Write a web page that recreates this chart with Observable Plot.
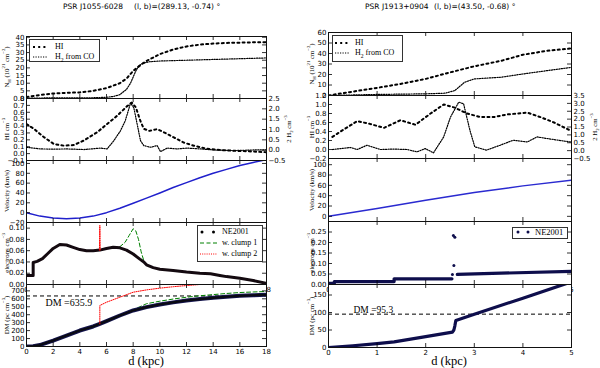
<!DOCTYPE html>
<html><head><meta charset="utf-8">
<script src="https://cdn.jsdelivr.net/npm/d3@7"></script>
<script src="https://cdn.jsdelivr.net/npm/@observablehq/plot@0.6"></script>
<style>
body{margin:0;background:#fff;}
#root{position:relative;width:600px;height:368px;overflow:hidden;background:#fff;font-family:"DejaVu Sans",sans-serif;color:#000;}
.ylab{position:absolute;white-space:nowrap;font-family:"Liberation Serif",serif;font-size:6.8px;transform:translate(-50%,-50%) rotate(-90deg);line-height:1;}
.ylab sub,.ylab sup,.lg sub{font-size:70%;line-height:0;}
.lgbox{position:absolute;border:0.8px solid #333;background:#fff;box-sizing:border-box;}
.lg{position:absolute;white-space:nowrap;font-family:"Liberation Serif",serif;font-size:8px;line-height:1;transform:translateY(-50%);}
.sw{position:absolute;overflow:visible;line-height:0;font-size:0;}
.sw svg{display:block;}
.title{position:absolute;white-space:nowrap;font-size:7.5px;line-height:1;transform:translateY(-50%);}
.xl{position:absolute;white-space:nowrap;font-family:"Liberation Serif",serif;font-size:12.5px;line-height:1;transform:translate(-50%,-50%);}
</style></head><body><div id="root"></div>
<script>
// ---------- data ----------
const L_XTICKS = [0,2,4,6,8,10,12,14,16,18];
const R_XTICKS = [0,1,2,3,4,5];

// Left: PSR J1055-6028
const L_NH_TICKS = [0,5,10,15,20,25,30,35,40];
const L_NH_HI = [[0,1],[1,2.3],[2,3.3],[3,3.7],[4,4],[5,5],[6,6.8],[7,10],[7.5,13],[8,18],[8.5,21.5],[9,24.5],[10,29],[11,32],[12,34],[13,35.2],[14,35.9],[15,36.3],[16,36.5],[17,36.7],[18,36.8]];
const L_NH_H2 = [[0,0.3],[3,0.4],[5,0.5],[6,0.8],[6.5,1.3],[7,2.5],[7.5,6],[7.8,10],[8,14],[8.2,18],[8.4,21],[8.7,23],[9.2,24],[10,24.5],[12,25],[14,25.5],[16,26],[18,26.5]];
const L_HI_TICKS = [-0.1,0,0.1,0.2,0.3,0.4,0.5,0.6,0.7,0.8];
const L_H2_TICKS = [-0.5,0,0.5,1,1.5,2,2.5];
const L_HI = [[0,0.43],[0.55,0.36],[1.3,0.24],[2.05,0.14],[2.8,0.115],[3.55,0.125],[4.3,0.19],[5.3,0.31],[6.05,0.43],[6.8,0.55],[7.55,0.69],[7.9,0.74],[8.2,0.67],[8.55,0.47],[8.8,0.36],[9.2,0.33],[9.8,0.355],[10.3,0.31],[11.05,0.235],[11.8,0.16],[12.55,0.115],[13.55,0.07],[15.05,0.045],[16.55,0.035],[18,0.02]];
const L_H2 = [[0,0.14],[1.05,0.06],[2,0.05],[3.05,0.06],[4.3,0.03],[5.55,0.1],[6.05,0.06],[6.55,0.46],[7.05,0.94],[7.4,1.41],[7.7,2.05],[7.8,2.29],[8.05,2.05],[8.3,1.26],[8.55,0.46],[8.8,0.22],[9.3,0.14],[9.8,0.22],[10.05,-0.07],[10.55,0.1],[11.3,0.06],[12.05,0.1],[13.05,0.06],[14.05,0.01],[15.55,-0.02],[17.05,0.01],[18,0.01]];
const L_V_TICKS = [-20,0,20,40,60,80,100];
const L_VEL = [[0,0],[1,-7],[2,-11],[3,-12.3],[4,-11],[5,-7],[6,0],[7,9],[8,19],[9,29.5],[10,40],[11,51],[12,61],[13,71],[14,80],[15,88],[16,96],[17,102],[18,108]];
const L_NE_TICKS = [0,0.02,0.04,0.06,0.08,0.10];
const L_NE_NE2001 = [[0,0.016],[0.5,0.016],[0.5,0.039],[0.8,0.041],[1.2,0.046],[1.6,0.055],[2,0.064],[2.5,0.071],[3,0.07],[3.5,0.066],[4,0.062],[4.5,0.06],[5,0.06],[5.5,0.061],[6,0.064],[6.5,0.066],[7,0.065],[7.5,0.061],[8,0.054],[8.5,0.045],[8.8,0.04],[9,0.035],[9.5,0.03],[10,0.027],[11,0.025],[12,0.022],[13,0.02],[13.8,0.019],[14.5,0.016],[15,0.014],[16,0.011],[17,0.007],[18,0.002]];
const L_NE_CLUMP1 = [[6.5,0.066],[7,0.067],[7.4,0.075],[7.7,0.087],[8,0.099],[8.2,0.095],[8.4,0.08],[8.6,0.058],[8.8,0.042],[9,0.035]];
const L_NE_CLUMP2 = [[5.47,0.061],[5.5,0.105],[5.53,0.061]];
const L_DM_TICKS = [0,100,200,300,400,500,600,700];
const L_DM_NE2001 = [[0,0],[0.5,4],[1,18],[2,75],[3,138],[4,201],[5,252],[5.5,285],[6,319],[7,390],[8,453],[9,495],[10,528],[11,555],[12,579],[13,597],[14,612],[15,626],[16,638],[17,645],[18,650]];
const L_DM_CLUMP1 = [[7,390],[7.5,422],[8,465],[8.5,500],[9,538],[10,570],[11,597],[12,620],[13,638],[14,653],[15,667],[16,679],[17,686],[18,692]];
const L_DM_CLUMP2 = [[5.5,285],[5.5,516],[6,557],[7,620],[8,683],[9,712],[10,734],[11,752],[12,767],[13,780],[14,795]];
const L_DM_OBS = [635.9];

// Right: PSR J1913+0904
const R_NH_TICKS = [0,10,20,30,40,50,60];
const R_NH_HI = [[0,0],[0.43,3.2],[1,7.3],[1.48,11],[2,15.8],[2.5,22],[3,27.8],[3.55,33],[4,38.8],[4.5,42.6],[5,44.8]];
const R_NH_H2 = [[0,0],[1,1],[2,1.6],[2.4,2.2],[2.6,4.7],[2.8,12.6],[3,15.8],[3.3,16.7],[3.55,17.4],[4,20.5],[4.5,23.7],[5,26.8]];
const R_HI_TICKS = [-0.2,0,0.2,0.4,0.6,0.8,1.0,1.2];
const R_H2_TICKS = [-0.5,0,0.5,1,1.5,2,2.5,3,3.5];
const R_HI = [[0.08,0.28],[0.32,0.45],[0.59,0.63],[0.85,0.57],[1.14,0.48],[1.48,0.65],[1.79,0.55],[2.1,0.8],[2.37,1.0],[2.6,0.93],[2.85,0.8],[3.13,0.72],[3.4,0.72],[3.68,0.78],[4.09,0.82],[4.36,0.72],[4.64,0.6],[4.98,0.42]];
const R_H2 = [[0.08,0.07],[0.45,0.2],[0.59,0.07],[0.79,0.34],[1.07,0.07],[1.34,0.1],[1.62,0.07],[1.82,-0.08],[1.99,0.13],[2.16,-0.14],[2.37,0.87],[2.51,2.13],[2.68,3.08],[2.78,2.97],[2.91,1.29],[3.01,0.24],[3.25,0.03],[3.53,0.34],[3.8,0.66],[4.09,0.55],[4.29,0.87],[4.64,0.7],[4.98,0.55]];
const R_V_TICKS = [0,20,40,60,80,100];
const R_VEL = [[0,0],[1,15],[2,31],[3,46],[4,59],[5,70]];
const R_NE_TICKS = [0,0.05,0.10,0.15,0.20,0.25];
const R_NE_A = [[0,0.006],[0.12,0.006],[0.12,0.014],[1.35,0.014],[1.35,0.027],[2.54,0.027]];
const R_NE_B = [[2.65,0.048],[5,0.063]];
const R_NE_SPIKE = [[2.55,0.048],[2.58,0.09],[2.57,0.233],[2.6,0.225]];
const R_DM_TICKS = [0,50,100,150];
const R_DM_NE2001 = [[0,0],[0.5,5],[1,11],[1.35,16],[2,31],[2.55,44],[2.58,50],[2.6,62],[2.62,77],[3,95],[4,141],[4.9,183]];
const R_DM_OBS = [95.3];

// ---------- layout helpers ----------
const root = document.getElementById("root");
const M = {l: 40, r: 40, t: 10, b: 16};
const f1 = d3.format(".1f"), f2 = d3.format(".2f"), f0 = d3.format("d");

function mk(o) {
  const {x0, y0, w, h, xd, yd, xt, yt, yfmt, marks = []} = o;
  const yaxis = o.yaxis === undefined ? "left" : o.yaxis;
  const all = [];
  if (o.bg) all.push(Plot.frame({fill: "white", stroke: null}));
  all.push(...marks);
  if (o.xticks !== false) {
    all.push(Plot.tickX(xt, {x: d => d, insetBottom: h - 4, stroke: "black", strokeWidth: 0.8}));
    all.push(Plot.tickX(xt, {x: d => d, insetTop: h - 4, stroke: "black", strokeWidth: 0.8}));
  }
  if (o.ticksL !== false) all.push(Plot.tickY(yt, {y: d => d, insetRight: w - 4, stroke: "black", strokeWidth: 0.8}));
  if (o.ticksR !== false) all.push(Plot.tickY(yt, {y: d => d, insetLeft: w - 4, stroke: "black", strokeWidth: 0.8}));
  if (o.frame !== false) all.push(Plot.frame({stroke: "#111", strokeWidth: 1}));
  const p = Plot.plot({
    width: w + M.l + M.r, height: h + M.t + M.b,
    marginLeft: M.l, marginRight: M.r, marginTop: M.t, marginBottom: M.b,
    style: {background: "none", overflow: "visible", fontFamily: "DejaVu Sans, sans-serif", fontSize: "7px", color: "black"},
    x: {domain: xd, axis: o.xlabels ? "bottom" : null, ticks: xt, tickSize: 0, tickPadding: 2.5, label: null, tickFormat: f0},
    y: {domain: yd, axis: yaxis, ticks: yt, tickFormat: yfmt, tickSize: 0, tickPadding: 2, label: null},
    marks: all
  });
  Object.assign(p.style, {position: "absolute", left: (x0 - M.l) + "px", top: (y0 - M.t) + "px"});
  root.appendChild(p);
}
function el(cls, css, html) {
  const e = document.createElement("div");
  e.className = cls; e.style.cssText = css; e.innerHTML = html;
  root.appendChild(e); return e;
}
const X = d => d[0], Y = d => d[1];
const HIsty = {stroke: "black", strokeWidth: 2, strokeDasharray: "2,3.2", clip: true};
const H2sty = {stroke: "black", strokeWidth: 1.2, strokeDasharray: "1.2,1.3", clip: true};

// ---------- LEFT COLUMN ----------
const LX0 = 26, LW = 240, LH = 62, LTOP = [36, 98, 160, 222, 284];
mk({x0: LX0, y0: LTOP[0], w: LW, h: LH, xd: [0, 18], yd: [0, 40.5], xt: L_XTICKS, yt: L_NH_TICKS, yfmt: f0,
  marks: [Plot.line(L_NH_H2, {x: X, y: Y, ...H2sty}), Plot.line(L_NH_HI, {x: X, y: Y, ...HIsty})]});
mk({x0: LX0, y0: LTOP[1], w: LW, h: LH, xd: [0, 18], yd: [-0.1, 0.8], xt: L_XTICKS, yt: L_HI_TICKS, yfmt: f1, ticksR: false,
  marks: [Plot.line(L_HI, {x: X, y: Y, ...HIsty})]});
mk({x0: LX0, y0: LTOP[1], w: LW, h: LH, xd: [0, 18], yd: [-0.5, 2.5], xt: L_XTICKS, yt: L_H2_TICKS, yfmt: f1, yaxis: "right",
  ticksL: false, xticks: false, frame: false,
  marks: [Plot.line(L_H2, {x: X, y: Y, ...H2sty})]});
mk({x0: LX0, y0: LTOP[2], w: LW, h: LH, xd: [0, 18], yd: [-20, 106], xt: L_XTICKS, yt: L_V_TICKS, yfmt: f0,
  marks: [Plot.line(L_VEL, {x: X, y: Y, stroke: "#2020cc", strokeWidth: 1.5, clip: true})]});
mk({x0: LX0, y0: LTOP[3], w: LW, h: LH, xd: [0, 18], yd: [0, 0.11], xt: L_XTICKS, yt: L_NE_TICKS, yfmt: f2, xlabels: true,
  marks: [
    Plot.line(L_NE_CLUMP1, {x: X, y: Y, stroke: "#008000", strokeWidth: 1, strokeDasharray: "4,2.5", clip: true}),
    Plot.line(L_NE_NE2001, {x: X, y: Y, stroke: "#140a10", strokeWidth: 3, clip: true}),
    Plot.line(L_NE_CLUMP2, {x: X, y: Y, stroke: "#ff0000", strokeWidth: 1, strokeDasharray: "1,1.2", clip: true})
  ]});
mk({x0: LX0, y0: LTOP[4], w: LW, h: LH, xd: [0, 18], yd: [0, 780], xt: L_XTICKS, yt: L_DM_TICKS, yfmt: f0, xlabels: true, bg: true,
  marks: [
    Plot.ruleY(L_DM_OBS, {y: d => d, stroke: "black", strokeWidth: 1, strokeDasharray: "4,3"}),
    Plot.text(L_DM_OBS, {y: d => d, frameAnchor: "left", text: d => "DM =" + d, dx: 19, dy: 6.5, textAnchor: "start", fontFamily: "Liberation Serif, serif", fontSize: 10}),
    Plot.line(L_DM_CLUMP1, {x: X, y: Y, stroke: "#008000", strokeWidth: 1, strokeDasharray: "4,2.5", clip: true}),
    Plot.line(L_DM_NE2001, {x: X, y: Y, stroke: "#15154f", strokeWidth: 4, clip: true}),
    Plot.line(L_DM_NE2001, {x: X, y: Y, stroke: "#0a0a12", strokeWidth: 2.2, clip: true}),
    Plot.line(L_DM_CLUMP2, {x: X, y: Y, stroke: "#ff0000", strokeWidth: 1, strokeDasharray: "1,1.2", clip: true})
  ]});

// ---------- RIGHT COLUMN ----------
const RX0 = 328, RW = 243, RH = 63, RTOP = [32, 95, 158, 221, 284];
mk({x0: RX0, y0: RTOP[0], w: RW, h: RH, xd: [0, 5], yd: [0, 60], xt: R_XTICKS, yt: R_NH_TICKS, yfmt: f0,
  marks: [Plot.line(R_NH_H2, {x: X, y: Y, ...H2sty}), Plot.line(R_NH_HI, {x: X, y: Y, ...HIsty})]});
mk({x0: RX0, y0: RTOP[1], w: RW, h: RH, xd: [0, 5], yd: [-0.2, 1.2], xt: R_XTICKS, yt: R_HI_TICKS, yfmt: f1, ticksR: false,
  marks: [Plot.line(R_HI, {x: X, y: Y, ...HIsty})]});
mk({x0: RX0, y0: RTOP[1], w: RW, h: RH, xd: [0, 5], yd: [-0.5, 3.5], xt: R_XTICKS, yt: R_H2_TICKS, yfmt: f1, yaxis: "right",
  ticksL: false, xticks: false, frame: false,
  marks: [Plot.line(R_H2, {x: X, y: Y, ...H2sty})]});
mk({x0: RX0, y0: RTOP[2], w: RW, h: RH, xd: [0, 5], yd: [-10, 112], xt: R_XTICKS, yt: R_V_TICKS, yfmt: f0,
  marks: [Plot.line(R_VEL, {x: X, y: Y, stroke: "#2a2ad0", strokeWidth: 1.5, clip: true})]});
mk({x0: RX0, y0: RTOP[3], w: RW, h: RH, xd: [0, 5], yd: [0, 0.30], xt: R_XTICKS, yt: R_NE_TICKS, yfmt: f2, xlabels: true,
  marks: [
    Plot.line(R_NE_A, {x: X, y: Y, stroke: "#0e0e4c", strokeWidth: 3.2, clip: true}),
    Plot.line(R_NE_B, {x: X, y: Y, stroke: "#0e0e4c", strokeWidth: 3.2, clip: true}),
    Plot.dot(R_NE_SPIKE, {x: X, y: Y, r: 1.5, fill: "#0e0e4c", stroke: null})
  ]});
mk({x0: RX0, y0: RTOP[4], w: RW, h: RH, xd: [0, 5], yd: [0, 180], xt: R_XTICKS, yt: R_DM_TICKS, yfmt: f0, xlabels: true, bg: true,
  marks: [
    Plot.ruleY(R_DM_OBS, {y: d => d, stroke: "black", strokeWidth: 1, strokeDasharray: "4,3"}),
    Plot.text(R_DM_OBS, {y: d => d, frameAnchor: "left", text: d => "DM =" + d, dx: 25, dy: -4, textAnchor: "start", fontFamily: "Liberation Serif, serif", fontSize: 9.5}),
    Plot.line(R_DM_NE2001, {x: X, y: Y, stroke: "#0e0e4c", strokeWidth: 3.2, clip: true})
  ]});

// ---------- titles ----------
el("title", "left:63px;top:7px;", "PSR J1055-6028");
el("title", "left:134px;top:7px;", "(l, b)=(289.13, -0.74) °");
el("title", "left:365px;top:7px;", "PSR J1913+0904");
el("title", "left:434px;top:7px;", "(l, b)=(43.50, -0.68) °");

// ---------- axis titles ----------
const YL = [
  "N<sub>H</sub> (10<sup>21</sup> cm<sup>−2</sup>)",
  "HI cm<sup>−3</sup>",
  "Velocity (km/s)",
  "electrons cm<sup>−3</sup>",
  "DM (pc cm<sup>−3</sup>)"
];
YL.forEach((t, i) => {
  el("ylab", `left:6.5px;top:${LTOP[i] + LH / 2}px;`, t);
  el("ylab", `left:311.5px;top:${RTOP[i] + RH / 2}px;`, t);
});
el("ylab", `left:289px;top:${LTOP[1] + LH / 2}px;`, "2 H<sub>2</sub> cm<sup>−3</sup>");
el("ylab", `left:595px;top:${RTOP[1] + RH / 2}px;`, "2 H<sub>2</sub> cm<sup>−3</sup>");
el("xl", "left:146px;top:361px;", "d (kpc)");
el("xl", "left:449px;top:361px;", "d (kpc)");

// ---------- legends ----------
function sw(x, y, w, inner) {
  el("sw", `left:${x}px;top:${y - 4}px;width:${w}px;height:8px;`, `<svg width="${w}" height="8" style="overflow:visible">${inner}</svg>`);
}
const hiSw = w => `<line x1="0" y1="4" x2="${w}" y2="4" stroke="black" stroke-width="2" stroke-dasharray="2,3.2"/>`;
const h2Sw = w => `<line x1="0" y1="4" x2="${w}" y2="4" stroke="black" stroke-width="1.2" stroke-dasharray="1.2,1.3"/>`;
// left N_H legend
el("lgbox", "left:29px;top:39px;width:71px;height:23px;", "");
sw(33, 46.5, 14, hiSw(14)); el("lg", "left:55px;top:46.5px;", "HI");
sw(33, 56.5, 14, h2Sw(14)); el("lg", "left:55px;top:56.5px;", "H<sub>2</sub> from CO");
// right N_H legend
el("lgbox", "left:332px;top:35px;width:71px;height:27px;", "");
sw(335, 42.7, 15, hiSw(15)); el("lg", "left:355px;top:42.7px;", "HI");
sw(335, 53.3, 15, h2Sw(15)); el("lg", "left:355px;top:53.3px;", "H<sub>2</sub> from CO");
// left electrons legend
el("lgbox", "left:197px;top:225px;width:66px;height:37px;", "");
sw(200, 232.3, 18, `<circle cx="2" cy="4" r="1.5" fill="black"/><circle cx="13.5" cy="4" r="1.5" fill="black"/>`);
el("lg", "left:222px;top:232.3px;", "NE2001");
sw(200, 243.3, 18, `<line x1="0" y1="4" x2="17" y2="4" stroke="#008000" stroke-width="1" stroke-dasharray="4,2.5"/>`);
el("lg", "left:222px;top:243.3px;", "w. clump 1");
sw(200, 254, 18, `<line x1="0" y1="4" x2="17" y2="4" stroke="#ff0000" stroke-width="1" stroke-dasharray="1,1.2"/>`);
el("lg", "left:222px;top:254px;", "w. clump 2");
// right electrons legend
el("lgbox", "left:512px;top:226.5px;width:56px;height:12px;", "");
sw(516, 232.4, 14, `<circle cx="2" cy="4" r="1.5" fill="#0e0e4c"/><circle cx="12" cy="4" r="1.5" fill="#0e0e4c"/>`);
el("lg", "left:535px;top:232.4px;font-size:8.5px;", "NE2001");
</script></body></html>
